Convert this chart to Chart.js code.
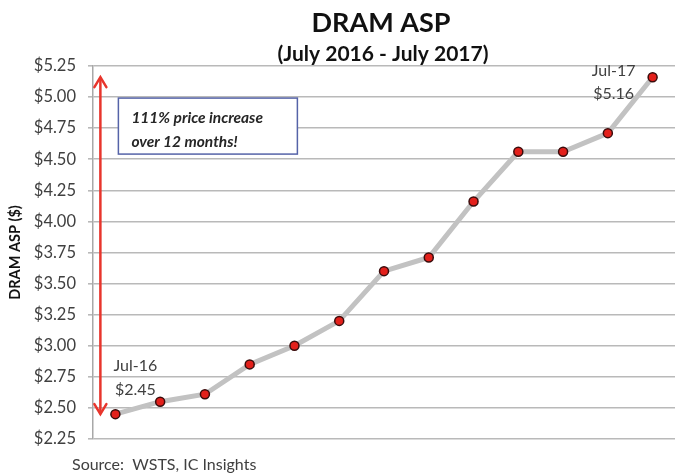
<!DOCTYPE html>
<html>
<head>
<meta charset="utf-8">
<script src="https://cdn.jsdelivr.net/npm/chart.js@4.4.1/dist/chart.umd.min.js"></script>
<style>
  html, body { margin: 0; padding: 0; background: #ffffff; }
  #wrap { width: 681px; height: 473px; position: relative; }
</style>
</head>
<body>
<div id="wrap"><canvas id="c" width="681" height="473"></canvas></div>
<script>
// ---- data ----
const categories = ['Jul-16','Aug-16','Sep-16','Oct-16','Nov-16','Dec-16','Jan-17','Feb-17','Mar-17','Apr-17','May-17','Jun-17','Jul-17'];
const aspValues = [2.45, 2.55, 2.61, 2.85, 3.00, 3.20, 3.60, 3.71, 4.16, 4.56, 4.56, 4.71, 5.16];
const yMin = 2.25;
const yMax = 5.25;
const yStep = 0.25;
const titleText = 'DRAM ASP';
const subtitleText = '(July 2016 - July 2017)';
const yAxisTitle = 'DRAM ASP ($)';
const sourceText = 'Source:  WSTS, IC Insights';
const noteLines = ['111% price increase', 'over 12 months!'];

const FONT = 'Lato, "Open Sans", sans-serif';

const decorPlugin = {
  id: 'decor',
  afterDraw(chart) {
    const ctx = chart.ctx;
    const xs = chart.scales.x, ys = chart.scales.y;
    const area = chart.chartArea;
    const cx = (area.left + area.right) / 2;
    ctx.save();
    // Titles
    ctx.fillStyle = '#111111';
    ctx.textAlign = 'center';
    ctx.textBaseline = 'middle';
    ctx.font = 'bold 27px ' + FONT;
    ctx.fillText(titleText, cx - 3, 23);
    ctx.font = 'bold 21px ' + FONT;
    ctx.fillText(subtitleText, cx - 1, 54);

    // Source
    ctx.fillStyle = '#404040';
    ctx.textAlign = 'left';
    ctx.font = '16px ' + FONT;
    ctx.fillText(sourceText, 72, 465);

    // Red double arrow spanning first -> last value
    const ax = xs.getPixelForValue(0) - 15;
    const yTop = ys.getPixelForValue(aspValues[aspValues.length - 1]);
    const yBot = ys.getPixelForValue(aspValues[0]);
    ctx.strokeStyle = '#e8352c';
    ctx.lineWidth = 2.5;
    ctx.lineCap = 'round';
    ctx.beginPath();
    ctx.moveTo(ax, yTop + 1);
    ctx.lineTo(ax, yBot - 1);
    ctx.stroke();
    ctx.beginPath();
    ctx.moveTo(ax - 6, yTop + 10); ctx.lineTo(ax, yTop); ctx.lineTo(ax + 6, yTop + 10);
    ctx.moveTo(ax - 6, yBot - 10); ctx.lineTo(ax, yBot); ctx.lineTo(ax + 6, yBot - 10);
    ctx.stroke();

    // Note box
    const bx = xs.getPixelForValue(0) + 3;
    const by = ys.getPixelForValue(5.0) + 1;
    const bw = 179, bh = 56;
    ctx.fillStyle = '#ffffff';
    ctx.fillRect(bx, by, bw, bh);
    ctx.strokeStyle = '#5563a8';
    ctx.lineWidth = 1.5;
    ctx.strokeRect(bx, by, bw, bh);
    ctx.fillStyle = '#262626';
    ctx.font = 'italic bold 15.5px ' + FONT;
    ctx.textAlign = 'left';
    ctx.fillText(noteLines[0], bx + 13, by + 20);
    ctx.fillText(noteLines[1], bx + 13, by + 44);

    // Point labels
    ctx.fillStyle = '#404040';
    ctx.font = '16px ' + FONT;
    ctx.textAlign = 'center';
    const p0x = xs.getPixelForValue(0), p0y = ys.getPixelForValue(aspValues[0]);
    ctx.fillText(categories[0], p0x + 20, p0y - 48);
    ctx.fillText('$' + aspValues[0].toFixed(2), p0x + 20, p0y - 24);
    const n = aspValues.length - 1;
    const pnx = xs.getPixelForValue(n), pny = ys.getPixelForValue(aspValues[n]);
    ctx.fillText(categories[n], pnx - 39, pny - 6);
    ctx.fillText('$' + aspValues[n].toFixed(2), pnx - 39, pny + 17);
    ctx.restore();
  }
};

new Chart(document.getElementById('c'), {
  type: 'line',
  data: {
    labels: categories,
    datasets: [{
      data: aspValues,
      borderColor: '#c2c2c2',
      borderWidth: 5,
      tension: 0,
      pointRadius: 4.5,
      pointBackgroundColor: '#e3201b',
      pointBorderColor: '#3a0c0c',
      pointBorderWidth: 1.5
    }]
  },
  options: {
    responsive: false,
    animation: false,
    events: [],
    layout: { padding: { top: 66, bottom: 34, left: 0, right: 0 } },
    plugins: {
      legend: { display: false },
      title: { display: false },
      tooltip: { enabled: false }
    },
    scales: {
      x: {
        type: 'category',
        display: false,
        offset: true
      },
      y: {
        min: yMin,
        max: yMax,
        afterFit(scale) { scale.width = 93; },
        ticks: {
          stepSize: yStep,
          padding: 12,
          color: '#404040',
          font: { family: FONT, size: 16.5 },
          callback: v => '$' + Number(v).toFixed(2)
        },
        grid: {
          color: '#b9b9b9',
          lineWidth: 1.6,
          tickLength: 5,
          drawTicks: true
        },
        border: { display: true, color: '#a8a8a8', width: 1.5 },
        title: {
          display: true,
          text: yAxisTitle,
          color: '#111111',
          font: { family: FONT, size: 14.5, weight: 'bold' },
          padding: { top: 7, bottom: 0 }
        }
      }
    }
  },
  plugins: [decorPlugin]
});
</script>
</body>
</html>
